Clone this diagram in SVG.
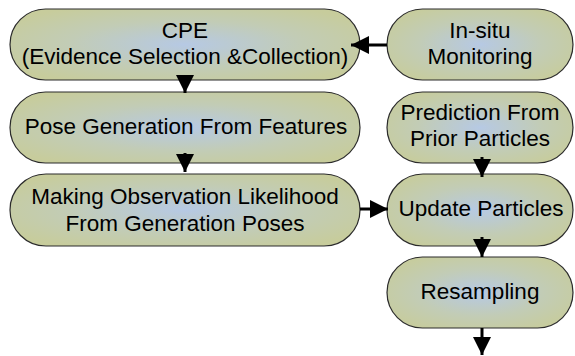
<svg xmlns="http://www.w3.org/2000/svg" width="575" height="356" viewBox="0 0 575 356">
  <defs>
    <radialGradient id="boxFill" cx="0.5" cy="0.5" r="0.6">
      <stop offset="0" stop-color="#b6c9e4"/>
      <stop offset="0.55" stop-color="#c2ccb6"/>
      <stop offset="1" stop-color="#c7cc9c"/>
    </radialGradient>
    <marker id="head" viewBox="0 0 18 18" refX="18" refY="9" markerWidth="18" markerHeight="18" markerUnits="userSpaceOnUse" orient="auto">
      <path d="M0,0 L18,9 L0,18 Z" fill="#000"/>
    </marker>
  </defs>
  <style>
    .box { fill: url(#boxFill); stroke: #2b2b2b; stroke-width: 1.2; }
    .lbl { font-family: "Liberation Sans", Arial, sans-serif; font-size: 22.5px; fill: #000; text-anchor: middle; }
    .edge { stroke: #000; stroke-width: 3; fill: none; marker-end: url(#head); }
  </style>

  <g id="cpe">
    <rect class="box" x="10" y="9" width="350" height="71" rx="35.5"/>
    <text class="lbl" x="185" y="38">CPE</text>
    <text class="lbl" x="185" y="64">(Evidence Selection &amp;Collection)</text>
  </g>
  <g id="pose-generation">
    <rect class="box" x="10" y="92" width="350" height="71" rx="35.5"/>
    <text class="lbl" x="186" y="134">Pose Generation From Features</text>
  </g>
  <g id="observation-likelihood">
    <rect class="box" x="10" y="174" width="350" height="72" rx="36"/>
    <text class="lbl" x="185" y="204">Making Observation Likelihood</text>
    <text class="lbl" x="185" y="231">From Generation Poses</text>
  </g>
  <g id="in-situ">
    <rect class="box" x="387" y="9" width="186" height="71" rx="35.5"/>
    <text class="lbl" x="480" y="38">In-situ</text>
    <text class="lbl" x="480" y="64">Monitoring</text>
  </g>
  <g id="prediction">
    <rect class="box" x="387" y="92" width="186" height="71" rx="35.5"/>
    <text class="lbl" x="480" y="120">Prediction From</text>
    <text class="lbl" x="480" y="146">Prior Particles</text>
  </g>
  <g id="update">
    <rect class="box" x="387" y="174" width="186" height="72" rx="36"/>
    <text class="lbl" x="481" y="216">Update Particles</text>
  </g>
  <g id="resampling">
    <rect class="box" x="387" y="257" width="186" height="71" rx="35.5"/>
    <text class="lbl" x="480" y="299">Resampling</text>
  </g>

  <g id="connectors">
    <line class="edge" x1="387" y1="45" x2="351" y2="45"/>
    <line class="edge" x1="185" y1="76" x2="185" y2="93"/>
    <line class="edge" x1="185" y1="153" x2="185" y2="172"/>
    <line class="edge" x1="360" y1="209" x2="388" y2="209"/>
    <line class="edge" x1="482" y1="157" x2="482" y2="177"/>
    <line class="edge" x1="482" y1="237" x2="482" y2="257"/>
    <line class="edge" x1="482" y1="328" x2="482" y2="355"/>
  </g>
</svg>
